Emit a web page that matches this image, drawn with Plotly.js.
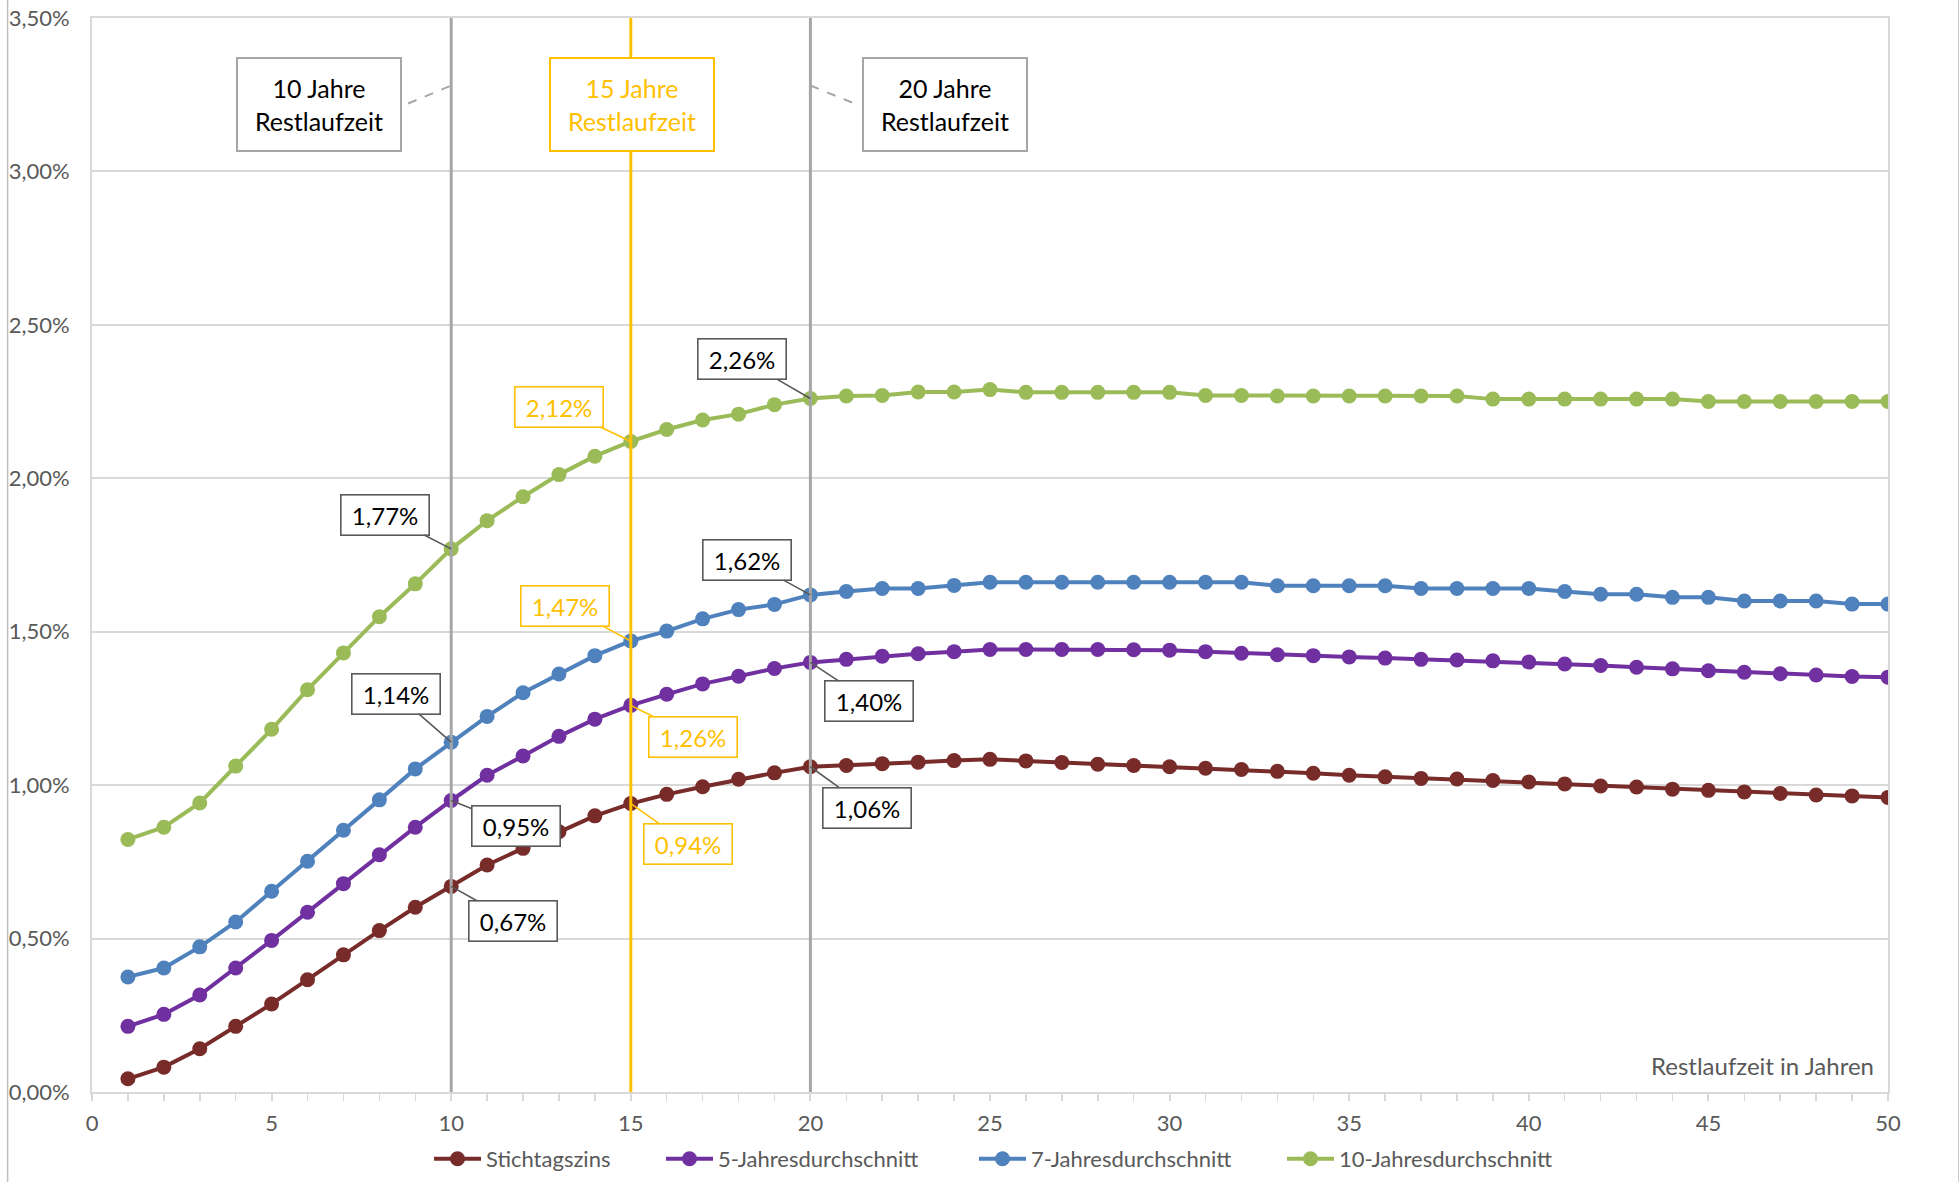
<!DOCTYPE html>
<html>
<head>
<meta charset="utf-8">
<script src="https://cdn.plot.ly/plotly-3.0.1.min.js"></script>
<style>html,body{margin:0;padding:0;background:#fff;}#chart{width:1959px;height:1182px;}</style>
</head>
<body>
<div id="chart"></div>
<script>
// Restlaufzeit in Jahren
const jahre = [1,2,3,4,5,6,7,8,9,10,11,12,13,14,15,16,17,18,19,20,21,22,23,24,25,26,27,28,29,30,31,32,33,34,35,36,37,38,39,40,41,42,43,44,45,46,47,48,49,50];

const seriesNames = ["Stichtagszins", "5-Jahresdurchschnitt", "7-Jahresdurchschnitt", "10-Jahresdurchschnitt"];

// values in %
const stichtagszins = [0.043,0.081,0.141,0.214,0.287,0.366,0.447,0.526,0.602,0.67,0.740,0.794,0.848,0.900,0.94,0.970,0.995,1.019,1.040,1.06,1.064,1.070,1.075,1.080,1.084,1.079,1.074,1.068,1.064,1.060,1.055,1.051,1.045,1.039,1.032,1.027,1.022,1.020,1.015,1.010,1.004,0.997,0.994,0.987,0.983,0.978,0.973,0.968,0.965,0.960];
const fuenfJahre = [0.214,0.253,0.316,0.404,0.494,0.586,0.679,0.773,0.863,0.95,1.032,1.095,1.159,1.215,1.26,1.296,1.330,1.355,1.380,1.40,1.410,1.420,1.428,1.435,1.442,1.442,1.442,1.442,1.441,1.440,1.435,1.430,1.425,1.422,1.418,1.414,1.410,1.408,1.405,1.401,1.395,1.390,1.384,1.379,1.373,1.368,1.363,1.359,1.354,1.352];
const siebenJahre = [0.375,0.404,0.473,0.554,0.654,0.752,0.853,0.952,1.053,1.14,1.224,1.301,1.362,1.422,1.47,1.502,1.542,1.572,1.589,1.62,1.631,1.641,1.641,1.651,1.661,1.661,1.661,1.661,1.661,1.661,1.661,1.661,1.650,1.650,1.650,1.650,1.641,1.641,1.641,1.641,1.631,1.622,1.622,1.612,1.612,1.600,1.600,1.600,1.590,1.590];
const zehnJahre = [0.823,0.863,0.942,1.062,1.182,1.311,1.431,1.549,1.656,1.77,1.862,1.940,2.012,2.072,2.12,2.159,2.19,2.209,2.24,2.26,2.268,2.27,2.281,2.281,2.289,2.28,2.28,2.28,2.28,2.28,2.27,2.27,2.268,2.268,2.268,2.268,2.268,2.268,2.258,2.258,2.258,2.258,2.258,2.258,2.25,2.25,2.25,2.25,2.25,2.25];

// marked maturities (vertical lines)
const markJahre = [10, 15, 20];
const markLabels = ["10 Jahre<br>Restlaufzeit", "15 Jahre<br>Restlaufzeit", "20 Jahre<br>Restlaufzeit"];

const yTickVals = [0, 0.5, 1, 1.5, 2, 2.5, 3, 3.5];
const xTitle = "Restlaufzeit in Jahren";

const colors = ["#772C2A", "#7030A0", "#4F81BD", "#9BBB59"];
const allSeries = [stichtagszins, fuenfJahre, siebenJahre, zehnJahre];
const ORANGE = "#FFC000", GRAY = "#A6A6A6", DARK = "#595959";
const FONT = "Lato, 'Open Sans', sans-serif";

const legendIds = ["legend", "legend2", "legend3", "legend4"];
const traces = allSeries.map((s, i) => ({
  x: jahre, y: s, name: seriesNames[i], type: "scatter", mode: "lines+markers",
  line: {color: colors[i], width: 4},
  marker: {color: colors[i], size: 15},
  legend: legendIds[i],
  hoverinfo: "skip"
}));

function fmt(v) { return v.toFixed(2).replace(".", ",") + "%"; }

// label offsets (pixels) per marked year, per series [stichtag, 5J, 7J, 10J]
const offsets = {
  10: [[62, 34.5], [65, 26], [-55.5, -48.5], [-66.5, -34]],
  15: [[56.7, 40], [62.4, 31.4], [-66, -35], [-72, -34.5]],
  20: [[56.5, 40.8], [59, 39], [-63.5, -35], [-68.5, -39.6]]
};

const annotations = [];
markJahre.forEach((yr, mi) => {
  const idx = jahre.indexOf(yr);
  const isOrange = yr === 15;
  allSeries.forEach((s, si) => {
    const o = offsets[yr][si];
    annotations.push({
      x: yr, y: s[idx], xref: "x", yref: "y", text: fmt(s[idx]),
      showarrow: true, arrowhead: 0, arrowwidth: 1.6, standoff: 0,
      arrowcolor: isOrange ? ORANGE : DARK,
      ax: o[0], ay: o[1],
      bordercolor: isOrange ? ORANGE : DARK, borderwidth: 1.6, borderpad: 0,
      bgcolor: "white", width: 87, height: 39,
      font: {family: FONT, size: 24, color: isOrange ? ORANGE : "#000000"}
    });
  });
  const shifts = [-132.5, 1.5, 134.5];
  annotations.push({
    x: yr, y: 3.5, xref: "x", yref: "y", text: markLabels[mi], showarrow: false,
    xanchor: "center", yanchor: "middle", xshift: shifts[mi], yshift: -86,
    bordercolor: isOrange ? ORANGE : GRAY, borderwidth: 2, borderpad: 0,
    bgcolor: "white", width: 162, height: 91, align: "center",
    font: {family: FONT, size: 25, color: isOrange ? ORANGE : "#000000"}
  });
});

annotations.push({
  xref: "paper", yref: "paper", x: 1, y: 0, xanchor: "right", yanchor: "bottom",
  xshift: -12, yshift: 10, showarrow: false, text: xTitle,
  font: {family: FONT, size: 24, color: DARK}
});

const shapes = [];
markJahre.forEach((yr) => {
  shapes.push({type: "line", xref: "x", yref: "y", x0: yr, x1: yr, y0: 0, y1: 3.5,
    layer: "above", line: {color: yr === 15 ? ORANGE : GRAY, width: 3}});
});
// dashed connectors from boxes to the lines
shapes.push({type: "line", xref: "x", yref: "y", xsizemode: "pixel", ysizemode: "pixel",
  xanchor: 10, yanchor: 3.5, x0: -43, y0: -85.5, x1: 0, y1: -67.5,
  line: {color: GRAY, width: 2, dash: "dash"}});
shapes.push({type: "line", xref: "x", yref: "y", xsizemode: "pixel", ysizemode: "pixel",
  xanchor: 20, yanchor: 3.5, x0: 0, y0: -67.5, x1: 44, y1: -85.5,
  line: {color: GRAY, width: 2, dash: "dash"}});
// chart outer border (left / right)
shapes.push({type: "line", xref: "paper", yref: "paper", x0: -0.047, x1: -0.047, y0: -0.09, y1: 1.02,
  line: {color: "#BFBFBF", width: 1.5}});
shapes.push({type: "line", xref: "paper", yref: "paper", x0: 1.0395, x1: 1.0395, y0: -0.09, y1: 1.02,
  line: {color: "#BFBFBF", width: 1.5}});

const plotL = 92, plotW = 1959 - 92 - 71;
const legendLineStart = [434, 666, 979, 1287];
const layout = {
  width: 1959, height: 1182,
  margin: {l: 92, r: 71, t: 18, b: 90, pad: 0, autoexpand: false},
  paper_bgcolor: "white", plot_bgcolor: "white",
  font: {family: FONT, color: DARK, size: 21},
  separators: ",.",
  xaxis: {
    range: [0, 50], tick0: 0, dtick: 5, ticks: "outside", ticklen: 7, tickwidth: 2, tickcolor: "#D9D9D9",
    minor: {dtick: 1, ticks: "outside", ticklen: 7, tickwidth: 1.5, tickcolor: "#D9D9D9", showgrid: false},
    showgrid: false, zeroline: false, showline: true, linecolor: "#D9D9D9", linewidth: 2, mirror: true,
    tickfont: {family: FONT, size: 22, color: DARK}, ticklabelstandoff: 4
  },
  yaxis: {
    range: [0, 3.5], tickvals: yTickVals, ticktext: yTickVals.map(fmt),
    showgrid: true, gridcolor: "#D9D9D9", gridwidth: 2, zeroline: false,
    showline: true, linecolor: "#D9D9D9", linewidth: 2, mirror: true, ticks: "",
    tickfont: {family: FONT, size: 22, color: DARK}, ticklabelstandoff: 16
  },
  showlegend: true,
  annotations: annotations,
  shapes: shapes
};
legendIds.forEach((id, i) => {
  layout[id] = {orientation: "h", xref: "paper", yref: "container",
    x: (legendLineStart[i] - 5 - plotL) / plotW, xanchor: "left",
    y: 1 - 1159 / 1182, yanchor: "middle",
    font: {family: FONT, size: 22, color: DARK}, itemwidth: 47, bgcolor: "rgba(0,0,0,0)", borderwidth: 0};
});

Plotly.newPlot("chart", traces, layout, {staticPlot: true, displayModeBar: false});
</script>
</body>
</html>
